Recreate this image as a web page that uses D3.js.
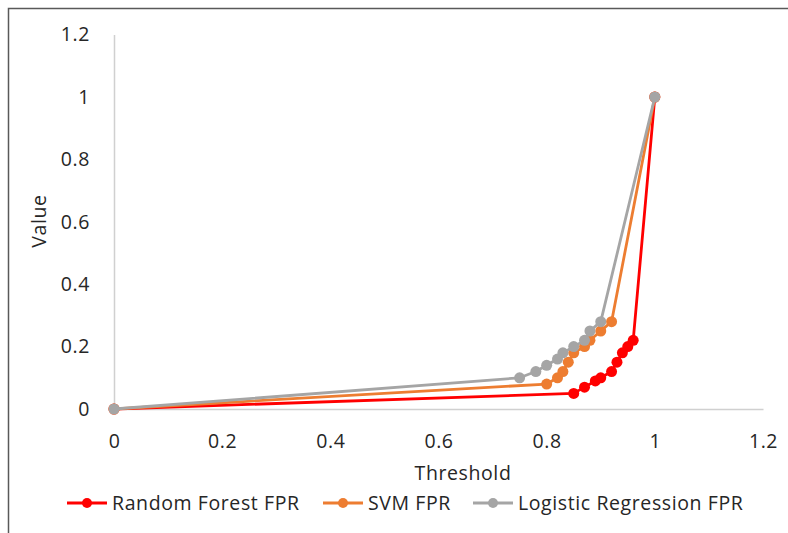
<!DOCTYPE html>
<html>
<head>
<meta charset="utf-8">
<script src="https://cdn.jsdelivr.net/npm/d3@7"></script>
<style>
  body { margin: 0; background: #fff; }
  svg text { font-family: "Open Sans", "Noto Sans", sans-serif; fill: #262626; letter-spacing: 0.6px; }
</style>
</head>
<body>
<div id="chart"></div>
<script>
// series data
const rfX  = [0, 0.85, 0.87, 0.89, 0.90, 0.92, 0.93, 0.94, 0.95, 0.96, 1];
const rfY  = [0, 0.05, 0.07, 0.09, 0.10, 0.12, 0.15, 0.18, 0.20, 0.22, 1];
const svmX = [0, 0.80, 0.82, 0.83, 0.84, 0.85, 0.87, 0.88, 0.90, 0.92, 1];
const svmY = [0, 0.08, 0.10, 0.12, 0.15, 0.18, 0.20, 0.22, 0.25, 0.28, 1];
const lrX  = [0, 0.75, 0.78, 0.80, 0.82, 0.83, 0.85, 0.87, 0.88, 0.90, 1];
const lrY  = [0, 0.10, 0.12, 0.14, 0.16, 0.18, 0.20, 0.22, 0.25, 0.28, 1];
const seriesNames = ["Random Forest FPR", "SVM FPR", "Logistic Regression FPR"];
const seriesColors = ["#ff0000", "#ed7d31", "#a5a5a5"];
const xTicks = [0, 0.2, 0.4, 0.6, 0.8, 1, 1.2];
const yTicks = [0, 0.2, 0.4, 0.6, 0.8, 1, 1.2];

(() => {
  const width = 788, height = 533;
  const fontSize = "19.5px";
  const svg = d3.select("#chart").append("svg")
    .attr("width", width).attr("height", height);

  // outer frame (only top/left visible in the crop)
  svg.append("path")
    .attr("d", `M8.5,${height} V8.5 H${width}`)
    .attr("fill", "none").attr("stroke", "#595959").attr("stroke-width", 1.5);

  const x = d3.scaleLinear().domain([0, 1.2]).range([114, 763]);
  const y = d3.scaleLinear().domain([0, 1.2]).range([409, 34.6]);

  // axes
  const xAxis = svg.append("g").attr("transform", `translate(0,${y(0)})`)
    .call(d3.axisBottom(x).tickValues(xTicks).tickSize(0).tickPadding(39)
      .tickFormat(d => d3.format("~g")(d)));
  const yAxis = svg.append("g").attr("transform", `translate(${x(0)},0)`)
    .call(d3.axisLeft(y).tickValues(yTicks).tickSize(0).tickPadding(24)
      .tickFormat(d => d3.format("~g")(d)));
  [xAxis, yAxis].forEach(g => {
    g.select(".domain").attr("stroke", "#d0d0d0").attr("stroke-width", 1.5);
    g.selectAll("text").style("font-size", fontSize).attr("fill", "#262626");
  });
  xAxis.selectAll("text").attr("dy", "0em");

  // axis titles
  svg.append("text").attr("x", 463).attr("y", 480)
    .attr("text-anchor", "middle").style("font-size", fontSize).text("Threshold");
  svg.append("text").attr("transform", "translate(46,221) rotate(-90)")
    .attr("text-anchor", "middle").style("font-size", fontSize).text("Value");

  const series = [
    { name: seriesNames[0], color: seriesColors[0], pts: rfX.map((d, i) => [d, rfY[i]]) },
    { name: seriesNames[1], color: seriesColors[1], pts: svmX.map((d, i) => [d, svmY[i]]) },
    { name: seriesNames[2], color: seriesColors[2], pts: lrX.map((d, i) => [d, lrY[i]]) }
  ];

  const line = d3.line().x(d => x(d[0])).y(d => y(d[1]));
  const plot = svg.append("g");
  series.forEach(s => {
    const g = plot.append("g");
    g.append("path").datum(s.pts).attr("d", line)
      .attr("fill", "none").attr("stroke", s.color).attr("stroke-width", 2.8)
      .attr("stroke-linejoin", "round");
    g.selectAll("circle").data(s.pts).join("circle")
      .attr("cx", d => x(d[0])).attr("cy", d => y(d[1]))
      .attr("r", 5.5).attr("fill", s.color);
  });

  // legend
  const legendPos = [67, 323, 473];
  const legend = svg.append("g").attr("transform", "translate(0,503)");
  series.forEach((s, i) => {
    const g = legend.append("g").attr("transform", `translate(${legendPos[i]},0)`);
    g.append("line").attr("x1", 0).attr("x2", 40)
      .attr("stroke", s.color).attr("stroke-width", 2.8);
    g.append("circle").attr("cx", 20).attr("r", 5).attr("fill", s.color);
    g.append("text").attr("x", 45).attr("dy", "0.35em")
      .style("font-size", fontSize).text(s.name);
  });
})();
</script>
</body>
</html>
